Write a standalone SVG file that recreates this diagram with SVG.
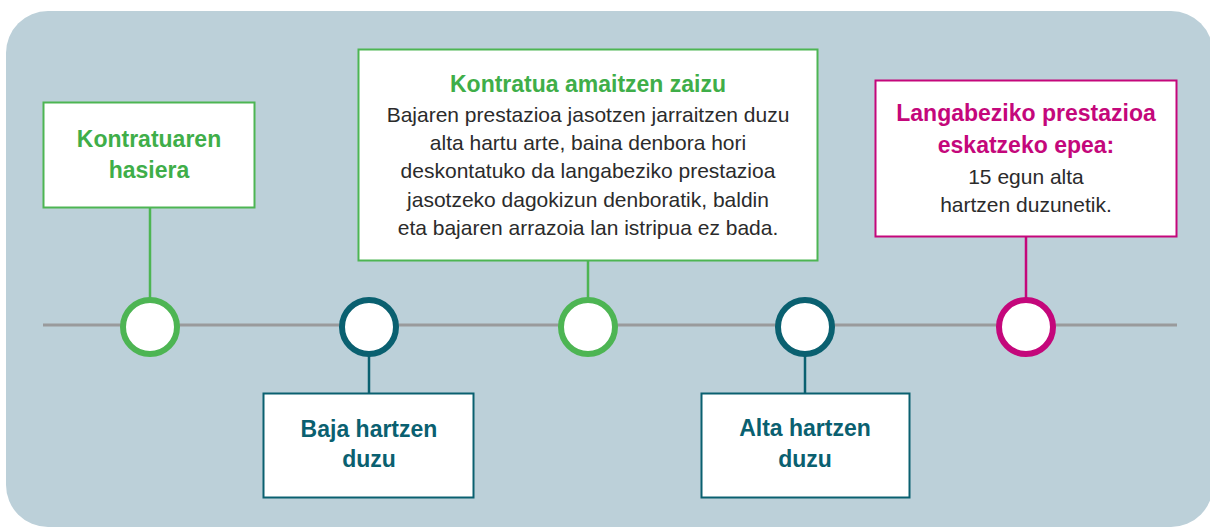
<svg xmlns="http://www.w3.org/2000/svg" width="1210" height="527" viewBox="0 0 1210 527">
<style>
.t{font-family:"Liberation Sans",Arial,sans-serif;text-anchor:middle}
.ti{font-size:23px;font-weight:bold}
.bd{font-size:21px;fill:#2b2b2b}
.g{fill:#3fae49}
.te{fill:#0a6070}
.m{fill:#c4077b}
.box{fill:#fff;stroke-width:2}
.sg{stroke:#4db553}
.st{stroke:#0a6070}
.sm{stroke:#c4077b}
.dot{fill:#fff;stroke-width:6}
.ln{fill:none;stroke-width:2.5}
</style>
<rect x="6" y="11" width="1207" height="516" rx="42" fill="#bcd0d9"/>
<g id="connectors">
<line x1="43" y1="325" x2="1177" y2="325" stroke="#999a9c" stroke-width="3"/>
<line class="ln sg" x1="150" y1="207" x2="150" y2="298"/>
<line class="ln st" x1="369" y1="355" x2="369" y2="393"/>
<line class="ln sg" x1="588" y1="260" x2="588" y2="298"/>
<line class="ln st" x1="805" y1="355" x2="805" y2="393"/>
<line class="ln sm" x1="1026" y1="236" x2="1026" y2="298"/>
</g>
<g id="node-kontratuaren-hasiera">
<rect class="box sg" x="43.5" y="102.5" width="211" height="105"/>
<text class="t ti g" x="149" y="147">Kontratuaren</text>
<text class="t ti g" x="149" y="178">hasiera</text>
<circle class="dot sg" cx="150" cy="327" r="27"/>
</g>
<g id="node-baja-hartzen-duzu">
<circle class="dot st" cx="369" cy="327" r="27"/>
<rect class="box st" x="263.5" y="393.5" width="210" height="104"/>
<text class="t ti te" x="369" y="437">Baja hartzen</text>
<text class="t ti te" x="369" y="467">duzu</text>
</g>
<g id="node-kontratua-amaitzen">
<rect class="box sg" x="358.5" y="49.5" width="459" height="211"/>
<text class="t ti g" x="588" y="92">Kontratua amaitzen zaizu</text>
<text class="t bd" x="588" y="122">Bajaren prestazioa jasotzen jarraitzen duzu</text>
<text class="t bd" x="588" y="150">alta hartu arte, baina denbora hori</text>
<text class="t bd" x="588" y="178">deskontatuko da langabeziko prestazioa</text>
<text class="t bd" x="588" y="207">jasotzeko dagokizun denboratik, baldin</text>
<text class="t bd" x="588" y="235">eta bajaren arrazoia lan istripua ez bada.</text>
<circle class="dot sg" cx="588" cy="327" r="27"/>
</g>
<g id="node-alta-hartzen-duzu">
<circle class="dot st" cx="805" cy="327" r="27"/>
<rect class="box st" x="701.5" y="393.5" width="208" height="104"/>
<text class="t ti te" x="805" y="436">Alta hartzen</text>
<text class="t ti te" x="805" y="467">duzu</text>
</g>
<g id="node-langabeziko-prestazioa">
<rect class="box sm" x="875.5" y="80.5" width="301" height="156"/>
<text class="t ti m" x="1026" y="121">Langabeziko prestazioa</text>
<text class="t ti m" x="1026" y="153">eskatzeko epea:</text>
<text class="t bd" x="1026" y="184">15 egun alta</text>
<text class="t bd" x="1026" y="212">hartzen duzunetik.</text>
<circle class="dot sm" cx="1026" cy="327" r="27"/>
</g>
</svg>
